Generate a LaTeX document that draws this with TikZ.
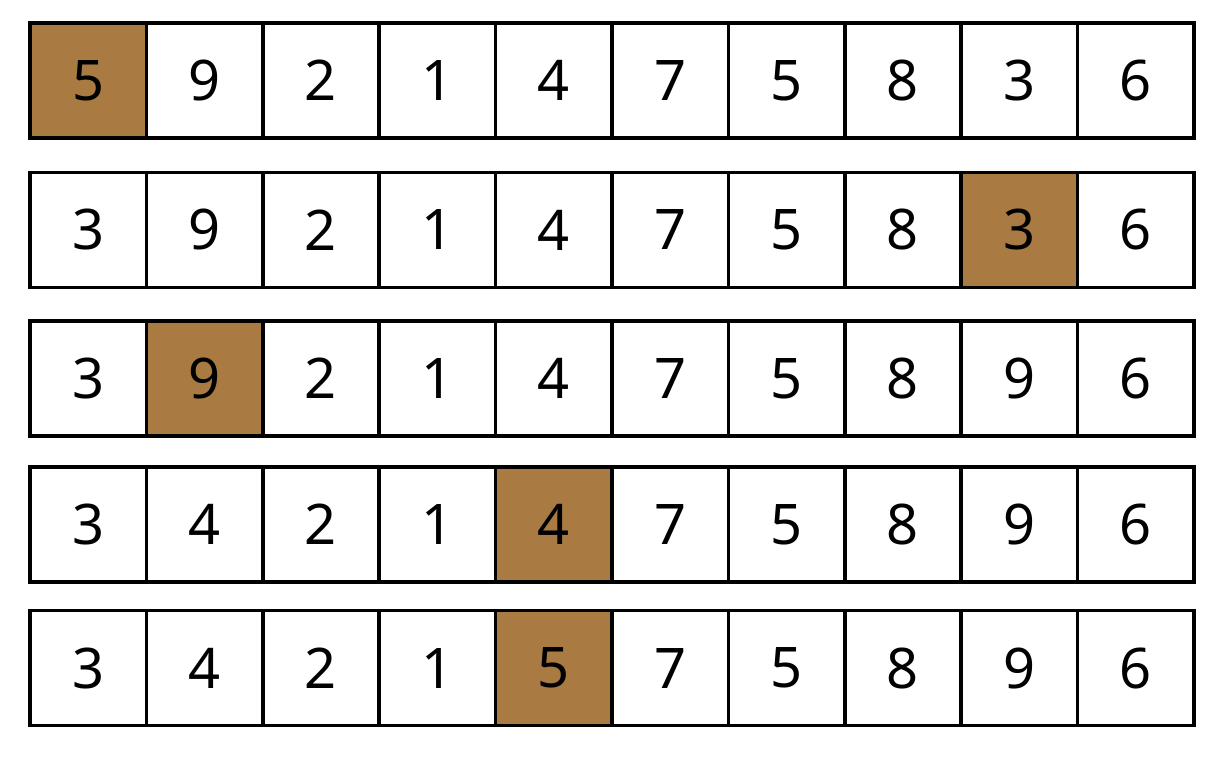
\documentclass[tikz,border=0pt]{standalone}
\usepackage{fontspec}
\setmainfont{Noto Sans}
\definecolor{hl}{HTML}{A97A42}
\begin{document}
\begin{tikzpicture}[x=1pt,y=-1pt,
  cell/.style={draw=black,line width=3.5pt,minimum width=116.4pt,minimum height=115pt,inner sep=0pt,outer sep=0pt,font=\fontsize{56}{60}\selectfont,anchor=north west},
  hi/.style={fill=hl}]
\useasboundingbox (0,0) rectangle (1228,764);
\foreach \r/\y/\vals/\h in {1/23/{5,9,2,1,4,7,5,8,3,6}/1, 2/172.5/{3,9,2,1,4,7,5,8,3,6}/9, 3/321/{3,9,2,1,4,7,5,8,9,6}/2, 4/467/{3,4,2,1,4,7,5,8,9,6}/5, 5/610.5/{3,4,2,1,5,7,5,8,9,6}/5}{
  \foreach \v [count=\i] in \vals {
    \ifnum\i=\h
      \node[cell,hi] (c-\r-\i) at ({30+(\i-1)*116.4},\y) {\v};
    \else
      \node[cell] (c-\r-\i) at ({30+(\i-1)*116.4},\y) {\v};
    \fi
  }
}
\end{tikzpicture}
\end{document}
